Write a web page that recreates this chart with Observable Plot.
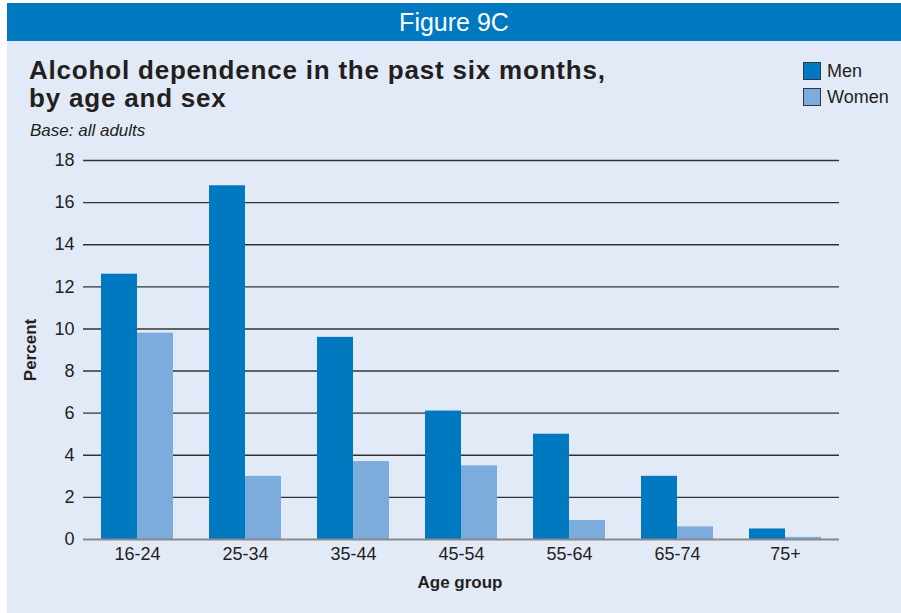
<!DOCTYPE html>
<html>
<head>
<meta charset="utf-8">
<script src="https://cdn.jsdelivr.net/npm/d3@7"></script>
<script src="https://cdn.jsdelivr.net/npm/@observablehq/plot@0.6"></script>
<style>
  html, body { margin: 0; padding: 0; background: #ffffff; }
  #page { position: relative; width: 901px; height: 613px; overflow: hidden; background: #ffffff; }
  #panel { position: absolute; left: 7px; top: 3px; width: 894px; height: 610px; background: #E3EAF7; }
  #header { position: absolute; left: 0; top: 0; width: 894px; height: 38px; background: #0079C1; color: #fff;
            font-family: "Liberation Sans Narrow", "Liberation Sans", Arial, sans-serif; font-size: 25px;
            text-align: center; line-height: 38px; }
  .cond { font-family: "Liberation Sans Narrow", "Liberation Sans", Arial, sans-serif; }
  #title { position: absolute; left: 22px; top: 53px; font-size: 26px; font-weight: 900; line-height: 28px; color: #231f20; letter-spacing: 0.8px; }
  #subtitle { position: absolute; left: 23px; top: 118px; font-size: 17px; font-style: italic; color: #231f20; }
  #legend { position: absolute; left: 796px; top: 55px; font-size: 18px; color: #231f20; }
  .li { display: flex; align-items: center; height: 26px; }
  .sw { width: 18px; height: 18px; border: 1px solid #2a3a4a; box-sizing: border-box; margin-right: 6px; }
  #ylabel { position: absolute; left: 31px; top: 350px; transform: translate(-50%,-50%) rotate(-90deg); font-size: 17px; font-weight: bold; color: #231f20; white-space: nowrap; }
  #xlabel { position: absolute; left: 460px; top: 583px; transform: translate(-50%,-50%); font-size: 17px; font-weight: bold; color: #231f20; white-space: nowrap; }
  #chart { position: absolute; left: 0; top: 150px; }
</style>
</head>
<body>
<div id="page">
  <div id="panel">
    <div id="header">Figure 9C</div>
    <div id="title" class="cond">Alcohol dependence in the past six months,<br>by age and sex</div>
    <div id="subtitle" class="cond">Base: all adults</div>
    <div id="legend" class="cond"></div>
  </div>
  <div id="ylabel" class="cond">Percent</div>
  <div id="xlabel" class="cond">Age group</div>
  <div id="chart"></div>
</div>
<script>
const ageGroups = ["16-24", "25-34", "35-44", "45-54", "55-64", "65-74", "75+"];
const sexes = ["Men", "Women"];
const menValues = [12.6, 16.8, 9.6, 6.1, 5.0, 3.0, 0.5];
const womenValues = [9.8, 3.0, 3.7, 3.5, 0.9, 0.6, 0.1];
const yTicks = [0, 2, 4, 6, 8, 10, 12, 14, 16, 18];
const colors = ["#0079C1", "#7BACDC"];

const men = ageGroups.map((g, i) => ({age: g, sex: "Men", value: menValues[i]}));
const women = ageGroups.map((g, i) => ({age: g, sex: "Women", value: womenValues[i]}));

// legend
const legend = document.getElementById("legend");
sexes.forEach((s, i) => {
  const row = document.createElement("div");
  row.className = "li";
  row.innerHTML = `<div class="sw" style="background:${colors[i]}"></div><span>${s}</span>`;
  legend.appendChild(row);
});

const fontFam = '"Liberation Sans Narrow", "Liberation Sans", Arial, sans-serif';
const W = 901, mL = 83, mR = 62;
// each group's bandwidth is 2/3 of its step; each sex gets half of it
const step = (W - mL - mR) / ageGroups.length;
const half = step * (2 / 3) / 2;

const chart = Plot.plot({
  width: W,
  height: 460,
  marginLeft: mL,
  marginRight: mR,
  marginTop: 10,
  marginBottom: 71,
  style: {background: "transparent", fontFamily: fontFam, fontSize: "18px", color: "#231f20"},
  x: {domain: ageGroups, paddingInner: 1/3, paddingOuter: 1/6, label: null},
  y: {domain: [0, 18], label: null},
  color: {domain: sexes, range: colors},
  marks: [
    Plot.gridY(yTicks.filter(d => d > 0), {stroke: "#333333", strokeOpacity: 1, strokeWidth: 1.4}),
    Plot.axisY(yTicks, {tickSize: 0, tickPadding: 9, label: null, fontSize: 18}),
    Plot.axisX({tickSize: 0, tickPadding: 8, label: null, fontSize: 18}),
    Plot.barY(men, {x: "age", y: "value", fill: "sex", insetRight: half}),
    Plot.barY(women, {x: "age", y: "value", fill: "sex", insetLeft: half}),
    Plot.ruleY([0], {stroke: "#8a8a8a", strokeWidth: 2})
  ]
});
document.getElementById("chart").appendChild(chart);
</script>
</body>
</html>
